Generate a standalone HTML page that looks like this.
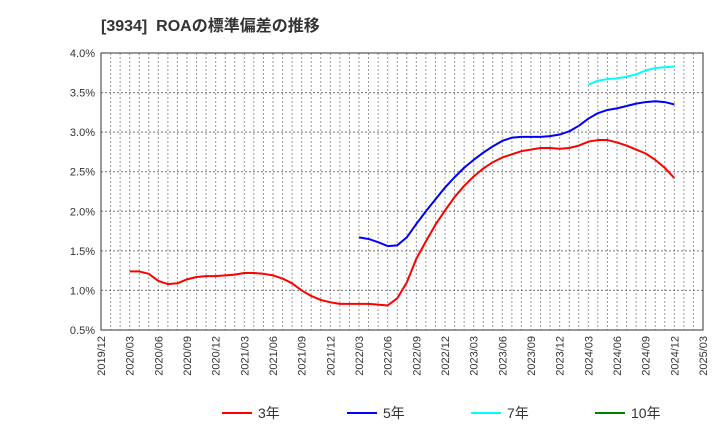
<!DOCTYPE html>
<html><head><meta charset="utf-8"><style>
body{margin:0;background:#fff;}
svg{display:block;font-family:"Liberation Sans","Noto Sans CJK JP",sans-serif;}
</style></head><body>
<svg id="c" width="720" height="440">
<text x="101" y="31" font-size="16" font-weight="bold" fill="#333" style="white-space:pre" xml:space="preserve">[3934]  ROAの標準偏差の推移</text>
<g id="grid"></g><g id="axes"></g><g id="series"></g><g id="legend"></g>
</svg>
<script>
const yTicks=[0.5,1.0,1.5,2.0,2.5,3.0,3.5,4.0];
const xTickLabels=["2019/12","2020/03","2020/06","2020/09","2020/12","2021/03","2021/06","2021/09","2021/12","2022/03","2022/06","2022/09","2022/12","2023/03","2023/06","2023/09","2023/12","2024/03","2024/06","2024/09","2024/12","2025/03"];
const red3=[1.24,1.24,1.21,1.12,1.08,1.09,1.14,1.17,1.18,1.18,1.19,1.20,1.22,1.22,1.21,1.19,1.15,1.09,1.00,0.93,0.88,0.85,0.83,0.83,0.83,0.83,0.82,0.81,0.90,1.10,1.40,1.62,1.83,2.01,2.18,2.32,2.44,2.54,2.62,2.68,2.72,2.76,2.78,2.80,2.80,2.79,2.80,2.83,2.88,2.90,2.90,2.87,2.83,2.78,2.73,2.65,2.55,2.42];
const red3Start=3;
const blue5=[1.67,1.65,1.61,1.56,1.57,1.67,1.84,2.00,2.15,2.30,2.43,2.55,2.65,2.74,2.82,2.89,2.93,2.94,2.94,2.94,2.95,2.97,3.01,3.08,3.17,3.24,3.28,3.30,3.33,3.36,3.38,3.39,3.38,3.35];
const blue5Start=27;
const cyan7=[3.60,3.65,3.67,3.68,3.70,3.73,3.78,3.81,3.82,3.83];
const cyan7Start=51;
const green10=[];
const L=101,R=703,T=53,B=330,NM=63;
const X=m=>L+(R-L)*m/NM;
const Y=v=>B-(B-T)*(v-0.5)/3.5;
const NS="http://www.w3.org/2000/svg";
function mk(p,tag,at){const e=document.createElementNS(NS,tag);for(const k in at)e.setAttribute(k,at[k]);p.appendChild(e);return e;}
const g=document.getElementById('grid'),a=document.getElementById('axes'),s=document.getElementById('series'),lg=document.getElementById('legend');
for(let m=1;m<NM;m++){const l=mk(g,'line',{x1:X(m),x2:X(m),y1:T,y2:B,stroke:'#999','stroke-dasharray':'2,2','stroke-width':1});

}
yTicks.forEach(v=>{
 if(v>0.5&&v<4){const l=mk(g,'line',{x1:L,x2:R,y1:Y(v),y2:Y(v),stroke:'#777','stroke-dasharray':'2,2','stroke-width':1});
 
 }
 const t=mk(a,'text',{x:L-6,y:Y(v)+4,'text-anchor':'end','font-size':11,fill:'#333'});t.textContent=v.toFixed(1)+'%';
 
 
});
const fr=mk(a,'rect',{x:L,y:T,width:R-L,height:B-T,fill:'none',stroke:'#333','stroke-width':1});


xTickLabels.forEach((lab,i)=>{const x=X(i*3);const t=mk(a,'text',{transform:`translate(${x+4},${B+6}) rotate(-90)`,'text-anchor':'end','font-size':11,fill:'#333'});t.textContent=lab;

});
function line(arr,start,color,name){if(!arr.length)return;const p=mk(s,'polyline',{points:arr.map((v,i)=>X(start+i)+','+Y(v)).join(' '),fill:'none',stroke:color,'stroke-width':2,'stroke-linejoin':'round'});

}
line(red3,red3Start,'#ff0000','series-3yr');
line(blue5,blue5Start,'#0000ff','series-5yr');
line(cyan7,cyan7Start,'#00ffff','series-7yr');
line(green10,0,'#008000','series-10yr');
[['3年','#ff0000',222],['5年','#0000ff',347],['7年','#00ffff',471],['10年','#008000',595]].forEach(([lab,c,x])=>{
 const gg=mk(lg,'g',{});
 
 
 mk(gg,'line',{x1:x,x2:x+30,y1:413,y2:413,stroke:c,'stroke-width':2});
 const t=mk(gg,'text',{x:x+36,y:418,'font-size':14,fill:'#333'});t.textContent=lab;
});
</script>
</body></html>
